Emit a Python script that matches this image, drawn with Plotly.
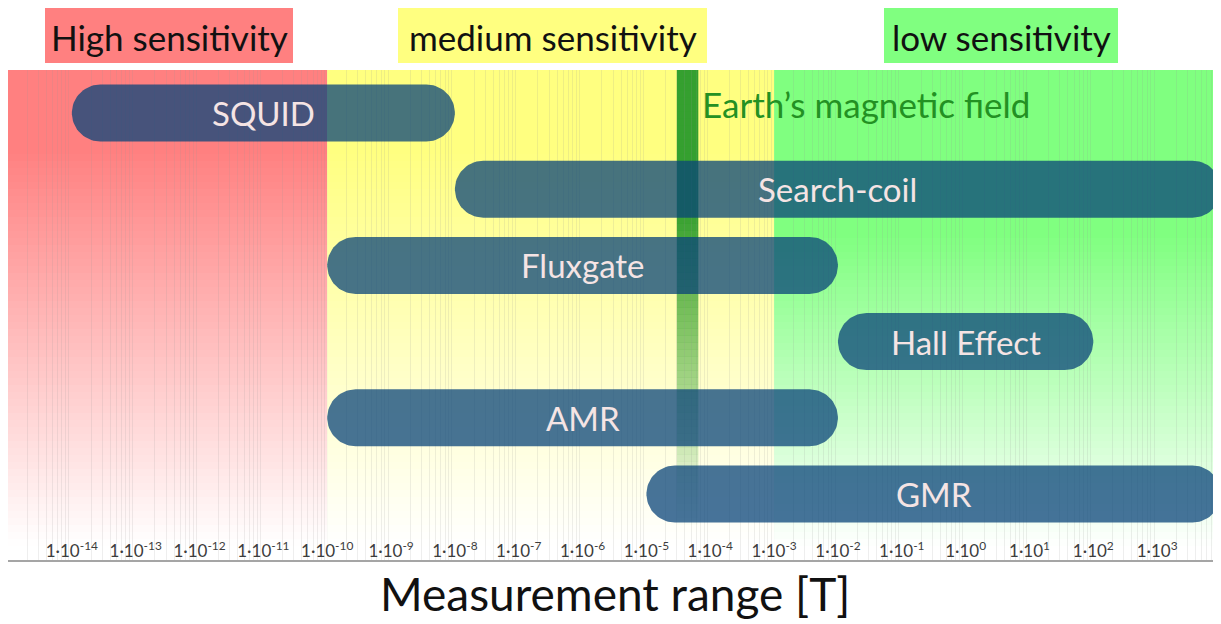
import numpy as np
import plotly.graph_objects as go

# ---------------- data ----------------
sensors = ["SQUID", "Search-coil", "Fluxgate", "Hall Effect", "AMR", "GMR"]
range_min = [1e-14, 1e-8, 1e-10, 1e-2, 1e-10, 1e-5]
range_max = [1e-8, 1e4, 1e-2, 1e2, 1e-2, 1e4]

zone_names = ["High sensitivity", "medium sensitivity", "low sensitivity"]
zone_min = [1e-15, 1e-10, 1e-3]
zone_max = [1e-10, 1e-3, 1e4]

earth_label = "Earth\u2019s magnetic field"
earth_min = 3e-5
earth_max = 6.5e-5

tick_exponents = list(range(-14, 4))
tick_values = [10.0 ** e for e in tick_exponents]
tick_labels = ["1\u00b710<sup>%d</sup>" % e for e in tick_exponents]

# ---------------- layout geometry (page pixels; page body has an 8px margin) ----------------
OFF = 8
W, H = 1221 - OFF, 624 - OFF
PLOT_L, PLOT_R, PLOT_T, PLOT_B = 8, 1221, 70, 560  # page pixels
L, T = PLOT_L - OFF, PLOT_T - OFF
R, B = 1221 - PLOT_R, 624 - PLOT_B
PW, PH = PLOT_R - PLOT_L, PLOT_B - PLOT_T
XR = [-15, 4]
YR = [-5.866, 0.564]
px_dec = PW / (XR[1] - XR[0])
px_y = PH / (YR[1] - YR[0])
BAR_H_PX = 57.0

FONT = "Lato, Carlito, Calibri, sans-serif"

zone_rgb = [(255, 128, 128), (255, 255, 128), (128, 255, 128)]
zone_fade = [(150, 545), (150, 545), (235, 548)]  # page rows: solid until, transparent at
box_px = [(45, 293), (398, 707), (884, 1118)]
earth_rgb = (42, 155, 42)

bar_rgba = "rgba(10,68,121,0.75)"
bar_text = "rgb(245,228,228)"


def py_to_y(py):
    return YR[1] - (py - PLOT_T) / px_y


def px_to_paper(px):
    return (px - PLOT_L) / PW


def py_to_paper(py):
    return (PLOT_B - py) / PH


fig = go.Figure()
shapes = []

# background gradient zones
N = 70
edges = np.linspace(PLOT_T, PLOT_B, N + 1)
for (r, g, b), z0, z1, (s, e) in zip(zone_rgb, zone_min, zone_max, zone_fade):
    for k in range(N):
        mid = 0.5 * (edges[k] + edges[k + 1])
        a = float(np.clip((e - mid) / (e - s), 0, 1))
        col = "rgb(%d,%d,%d)" % (round(255 * (1 - a) + r * a), round(255 * (1 - a) + g * a), round(255 * (1 - a) + b * a))
        shapes.append(dict(type="rect", xref="x", yref="y", x0=z0, x1=z1,
                           y0=py_to_y(edges[k + 1]), y1=py_to_y(edges[k]) + 0.001,
                           fillcolor=col, line=dict(width=0), layer="below"))

# Earth field band (fading)
for k in range(N):
    mid = 0.5 * (edges[k] + edges[k + 1])
    a = float(np.clip((525 - mid) / (525 - 210), 0, 1))
    shapes.append(dict(type="rect", xref="x", yref="y", x0=earth_min, x1=earth_max,
                       y0=py_to_y(edges[k + 1]), y1=py_to_y(edges[k]) + 0.001,
                       fillcolor="rgba(%d,%d,%d,%.3f)" % (earth_rgb + (0.95 * a,)),
                       line=dict(width=0), layer="below"))

# decade gridlines (darker)
for e in range(XR[0], XR[1] + 1):
    shapes.append(dict(type="line", xref="x", yref="paper", x0=10.0 ** e, x1=10.0 ** e, y0=0, y1=1,
                       line=dict(color="rgba(130,130,130,0.35)", width=1), layer="between"))

# zone label boxes
for (x0, x1), (r, g, b) in zip(box_px, zone_rgb):
    shapes.append(dict(type="rect", xref="paper", yref="paper",
                       x0=px_to_paper(x0), x1=px_to_paper(x1),
                       y0=py_to_paper(63), y1=py_to_paper(7),
                       fillcolor="rgb(%d,%d,%d)" % (r, g, b), line=dict(width=0), layer="above"))

annotations = []
for name, (x0, x1) in zip(zone_names, box_px):
    annotations.append(dict(xref="paper", yref="paper", x=px_to_paper((x0 + x1) / 2), y=py_to_paper(37),
                            text=name, showarrow=False, xanchor="center", yanchor="middle",
                            font=dict(family=FONT, size=35, color="#111111")))

# rounded bars
r_px = BAR_H_PX / 2
theta_r = np.linspace(-np.pi / 2, np.pi / 2, 40)
theta_l = np.linspace(np.pi / 2, 3 * np.pi / 2, 40)
for i, (name, lo, hi) in enumerate(zip(sensors, range_min, range_max)):
    yc = -i
    xl = np.log10(lo) + r_px / px_dec
    xr = np.log10(hi) - r_px / px_dec
    xs = np.concatenate([xr + r_px * np.cos(theta_r) / px_dec, xl + r_px * np.cos(theta_l) / px_dec])
    ys = np.concatenate([yc + r_px * np.sin(theta_r) / px_y, yc + r_px * np.sin(theta_l) / px_y])
    fig.add_trace(go.Scatter(x=10.0 ** np.append(xs, xs[0]), y=np.append(ys, ys[0]), mode="lines",
                             fill="toself", fillcolor=bar_rgba, line=dict(width=0),
                             hoverinfo="text", hovertext=name, showlegend=False))
    annotations.append(dict(xref="x", yref="y", x=(np.log10(lo) + np.log10(hi)) / 2, y=yc,
                            text=name, showarrow=False, xanchor="center", yanchor="middle",
                            font=dict(family=FONT, size=33, color=bar_text)))

annotations.append(dict(xref="x", yref="y", x=np.log10(earth_max), y=py_to_y(104), xshift=2,
                        text=earth_label, showarrow=False, xanchor="left", yanchor="middle",
                        font=dict(family=FONT, size=35, color="rgb(35,145,35)")))

annotations.append(dict(xref="paper", yref="paper", x=px_to_paper(615), y=py_to_paper(623),
                        text="Measurement range [T]", showarrow=False, xanchor="center", yanchor="bottom",
                        font=dict(family=FONT, size=46, color="#111111")))

# minor gridline positions (log digits 2..9 in each decade)
minor_vals = [d * 10.0 ** e for e in range(XR[0], XR[1]) for d in range(2, 10)]

fig.update_layout(
    width=W, height=H,
    margin=dict(l=L, r=R, t=T, b=B, pad=0),
    paper_bgcolor="white", plot_bgcolor="white",
    shapes=shapes, annotations=annotations,
    xaxis=dict(type="log", range=XR, tickmode="array", tickvals=tick_values, ticktext=tick_labels,
               ticklabelposition="inside", ticks="", showgrid=False,
               minor=dict(tickmode="array", tickvals=minor_vals, showgrid=True, ticks="",
                          gridcolor="rgba(150,150,150,0.16)", gridwidth=1),
               showline=True, linecolor="rgb(165,165,165)", linewidth=1.5,
               tickfont=dict(family=FONT, size=17, color="rgb(60,60,60)"),
               fixedrange=True),
    yaxis=dict(range=YR, visible=False, showgrid=False, zeroline=False, fixedrange=True),
    showlegend=False,
)

fig.write_html("out.html")
